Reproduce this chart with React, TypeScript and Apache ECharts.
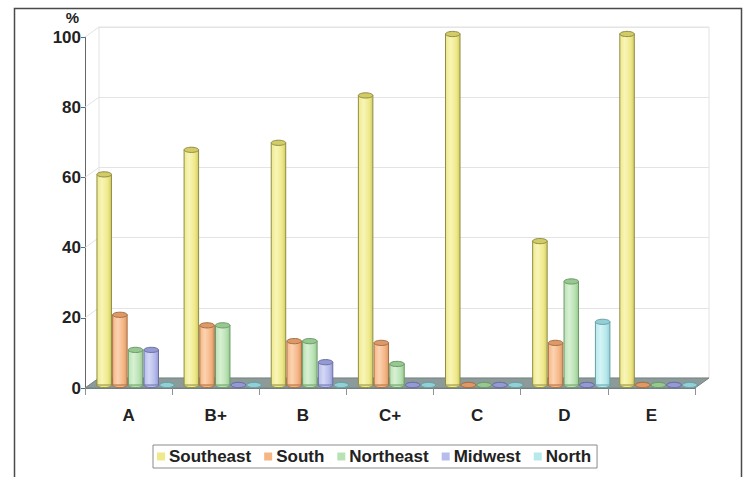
import React, { useEffect, useRef } from "react";
import * as echarts from "echarts";

// Grades along the x axis and share (%) of each region within a grade
const CATEGORIES = ["A", "B+", "B", "C+", "C", "D", "E"];
const REGIONS = ["Southeast", "South", "Northeast", "Midwest", "North"];
const SOUTHEAST = [60, 67, 69, 82.5, 100, 41, 100];
const SOUTH = [20, 17, 12.5, 12, 0, 12, 0];
const NORTHEAST = [10, 17, 12.5, 6, 0, 29.5, 0];
const MIDWEST = [10, 0, 6.5, 0, 0, 0, 0];
const NORTH = [0, 0, 0, 0, 0, 18, 0];
const Y_TICKS = [0, 20, 40, 60, 80, 100];

const SERIES_VALUES = [SOUTHEAST, SOUTH, NORTHEAST, MIDWEST, NORTH];

// fill, light highlight, outline, cap colour per region
const PALETTE = [
  { fill: "#efe98a", light: "#f8f5b8", edge: "#8f8c45", cap: "#d2cb66" },
  { fill: "#f5b685", light: "#fbd3b2", edge: "#a86e42", cap: "#dd9a68" },
  { fill: "#b9e2b3", light: "#d8f0d4", edge: "#6c9a67", cap: "#98c892" },
  { fill: "#b6bceb", light: "#d4d8f5", edge: "#6a70a6", cap: "#959bd2" },
  { fill: "#b6e8ec", light: "#d5f4f6", edge: "#66a0a6", cap: "#93cfd4" },
];

const FONT = "'Liberation Sans', Arial, sans-serif";
// depth offset of the back wall relative to the front plane
const DEPTH_X = 14;
const DEPTH_Y = -10;

function cylinderRenderer(seriesIdx: number) {
  const c = PALETTE[seriesIdx];
  return (params: any, api: any) => {
    const idx = api.value(0);
    const v = api.value(1);
    const top = api.coord([idx, v]);
    const base = api.coord([idx, 0]);
    const band = api.size([1, 0])[0];
    const bw = band * 0.18;
    const cx = top[0] + (seriesIdx - 2) * bw + DEPTH_X / 2;
    const yTop = top[1] + DEPTH_Y / 2 + 2;
    const yBase = base[1] + DEPTH_Y / 2 + 2;
    const rx = bw / 2 - 0.6;
    const ry = 2.6;
    const grad = new echarts.graphic.LinearGradient(0, 0, 1, 0, [
      { offset: 0, color: c.fill },
      { offset: 0.35, color: c.light },
      { offset: 0.75, color: c.fill },
      { offset: 1, color: c.cap },
    ]);
    const children: any[] = [
      {
        type: "ellipse",
        shape: { cx, cy: yBase, rx, ry },
        style: { fill: c.fill, stroke: c.edge, lineWidth: 1 },
      },
    ];
    if (yBase - yTop > 0.5) {
      children.push({
        type: "rect",
        shape: { x: cx - rx, y: yTop, width: rx * 2, height: yBase - yTop },
        style: { fill: grad, stroke: c.edge, lineWidth: 1 },
      });
    }
    children.push({
      type: "ellipse",
      shape: { cx, cy: yTop, rx, ry },
      style: { fill: c.cap, stroke: c.edge, lineWidth: 1 },
    });
    return { type: "group", children };
  };
}

export default function App() {
  const ref = useRef<HTMLDivElement>(null);

  useEffect(() => {
    if (!ref.current) return;
    const chart = echarts.init(ref.current, null, { renderer: "svg" });

    const barSeries = REGIONS.map((name, i) => ({
      name,
      type: "custom",
      xAxisIndex: 0,
      yAxisIndex: 0,
      z: 5,
      data: SERIES_VALUES[i].map((v, k) => [k, v]),
      encode: { x: 0, y: 1 },
      itemStyle: { color: PALETTE[i].fill, borderColor: PALETTE[i].edge },
      renderItem: cylinderRenderer(i),
    }));

    chart.setOption({
      animation: false,
      backgroundColor: "#ffffff",
      textStyle: { fontFamily: FONT },
      grid: [
        // front plane: axes and labels
        { left: 85, right: 52, top: 37, bottom: 89 },
        // back wall: gridlines
        {
          left: 85 + DEPTH_X,
          right: 52 - DEPTH_X,
          top: 37 + DEPTH_Y,
          bottom: 89 - DEPTH_Y,
          show: true,
          borderColor: "#e2e2e2",
          borderWidth: 1,
          backgroundColor: "#ffffff",
        },
      ],
      xAxis: [
        {
          type: "category",
          gridIndex: 0,
          data: CATEGORIES,
          boundaryGap: true,
          axisLine: { show: true, lineStyle: { color: "#6f7c7c", width: 1 } },
          axisTick: { show: true, length: 7, lineStyle: { color: "#8a9494" } },
          axisLabel: {
            color: "#222",
            fontSize: 17,
            fontWeight: "bold",
            fontFamily: FONT,
            margin: 19,
          },
        },
        {
          type: "category",
          gridIndex: 1,
          data: CATEGORIES,
          show: false,
        },
      ],
      yAxis: [
        {
          type: "value",
          gridIndex: 0,
          min: 0,
          max: 100,
          interval: 20,
          name: "%",
          nameLocation: "end",
          nameGap: 12,
          nameTextStyle: {
            color: "#222",
            fontSize: 15,
            fontWeight: "bold",
            fontFamily: FONT,
            align: "right",
            padding: [0, 6, 0, 0],
          },
          axisLine: { show: true, lineStyle: { color: "#666", width: 1 } },
          axisTick: { show: true, length: 4, lineStyle: { color: "#666" } },
          axisLabel: {
            color: "#222",
            fontSize: 17,
            fontWeight: "bold",
            fontFamily: FONT,
            margin: 4,
          },
          splitLine: { show: false },
        },
        {
          type: "value",
          gridIndex: 1,
          min: 0,
          max: 100,
          interval: 20,
          axisLine: { show: false },
          axisTick: { show: false },
          axisLabel: { show: false },
          splitLine: { show: true, lineStyle: { color: "#e4e4e4", width: 1 } },
        },
      ],
      legend: {
        data: REGIONS,
        left: 153,
        top: 445,
        orient: "horizontal",
        icon: "rect",
        itemWidth: 8,
        itemHeight: 8,
        itemGap: 13,
        padding: [3, 6, 3, 4],
        borderColor: "#8a8a8a",
        borderWidth: 1,
        backgroundColor: "#ffffff",
        selectedMode: false,
        textStyle: {
          color: "#222",
          fontSize: 17,
          fontWeight: "bold",
          fontFamily: FONT,
          padding: [0, 0, 0, -1],
        },
      },
      series: [
        // diagonal connectors from the y ticks to the back wall
        {
          type: "custom",
          xAxisIndex: 0,
          yAxisIndex: 0,
          z: 1,
          silent: true,
          data: Y_TICKS.map((v) => [0, v]),
          encode: { x: 0, y: 1 },
          renderItem: (params: any, api: any) => {
            const y = api.coord([0, api.value(1)])[1];
            const x = params.coordSys.x;
            return {
              type: "line",
              shape: { x1: x, y1: y, x2: x + DEPTH_X, y2: y + DEPTH_Y },
              style: { stroke: "#e2e2e2", lineWidth: 1 },
            };
          },
        },
        // floor of the plot
        {
          type: "custom",
          xAxisIndex: 0,
          yAxisIndex: 0,
          z: 2,
          silent: true,
          data: [[0, 0]],
          encode: { x: 0, y: 1 },
          renderItem: (params: any) => {
            const cs = params.coordSys;
            const yb = cs.y + cs.height;
            return {
              type: "polygon",
              shape: {
                points: [
                  [cs.x, yb],
                  [cs.x + cs.width, yb],
                  [cs.x + cs.width + DEPTH_X, yb + DEPTH_Y],
                  [cs.x + DEPTH_X, yb + DEPTH_Y],
                ],
              },
              style: { fill: "#8c9a9a", stroke: "#748282", lineWidth: 1 },
            };
          },
        },
        ...barSeries,
      ],
      graphic: [
        {
          type: "rect",
          left: 12,
          top: 6,
          shape: { width: 727, height: 480 },
          style: { fill: "none", stroke: "#4a4a4a", lineWidth: 1.5 },
          z: 100,
          silent: true,
        },
      ],
    });

    return () => chart.dispose();
  }, []);

  return (
    <div
      ref={ref}
      style={{ position: "fixed", left: 0, top: 0, width: 747, height: 477 }}
    />
  );
}
